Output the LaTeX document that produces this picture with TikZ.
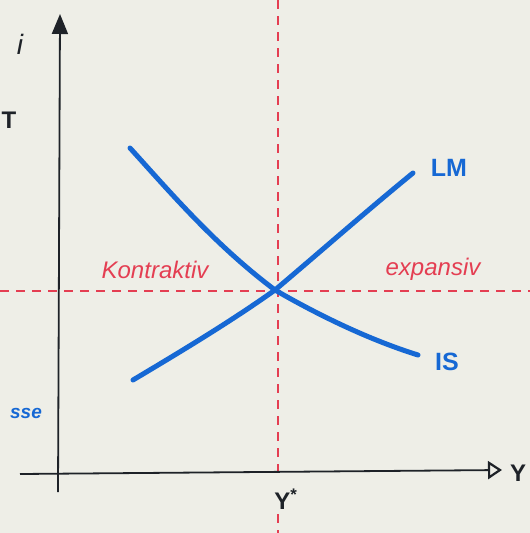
\documentclass[tikz,border=0pt]{standalone}
\usepackage{fontspec}
\setmainfont{Liberation Sans}
\usetikzlibrary{arrows.meta}
\definecolor{paper}{RGB}{238,238,231}
\definecolor{penblue}{RGB}{22,104,212}
\definecolor{penred}{RGB}{228,62,82}
\definecolor{ink}{RGB}{30,34,40}
\tikzset{
  axis/.style={ink, line width=1.8pt},
  guide/.style={penred, line width=1.1pt, dash pattern=on 9pt off 7pt},
  curve/.style={penblue, line width=5pt, line cap=round},
  redlabel/.style={text=penred, font=\itshape\fontsize{24}{24}\selectfont},
  bluelabel/.style={text=penblue, font=\bfseries\fontsize{25}{25}\selectfont},
  blacklabel/.style={text=ink, font=\bfseries\fontsize{24}{24}\selectfont},
}
\begin{document}
\begin{tikzpicture}[x=1pt,y=-1pt]
\fill[paper] (0,0) rectangle (530,533);
\useasboundingbox (0,0) rectangle (530,533);
\clip (0,0) rectangle (530,533);

% coordinates
\coordinate (yb) at (58,492);
\coordinate (yt) at (60,14);
\coordinate (xl) at (20,474);
\coordinate (xr) at (502,470);
\coordinate (vt) at (278,0);
\coordinate (vm) at (278,478);
\coordinate (vb2) at (278,514);
\coordinate (vb3) at (278,533);
\coordinate (hl) at (0,291);
\coordinate (hr) at (530,291);
\coordinate (X) at (275,290);

% guides
\draw[guide] (vt) -- (vm);
\draw[guide] (vb2) -- (vb3);
\draw[guide] (hl) -- (hr);

% axes
\draw[axis, -{Triangle[length=20pt,width=16pt]}] (yb) -- (yt);
\draw[axis, -{Triangle[open,length=14pt,width=18pt,line width=2.2pt]}] (xl) -- (xr);

% curves
\draw[curve] (130,148) .. controls (170,192) and (215,245) .. (X)
             .. controls (320,316) and (370,340) .. (418,355);
\draw[curve] (133,380) .. controls (180,352) and (230,322) .. (X)
             .. controls (320,252) and (370,208) .. (413,173);

% labels
\node[blacklabel, font=\itshape\fontsize{28}{28}\selectfont] (ilab) at (20,44) {i};
\node[blacklabel] (ylab) at (518,473) {Y};
\node[blacklabel] (ystar) at (286,499) {Y\textsuperscript{*}};
\node[bluelabel] (lm) at (449,168) {LM};
\node[bluelabel] (is) at (447,362) {IS};
\node[redlabel] (kon) at (155,270) {Kontraktiv};
\node[redlabel] (exp) at (433,269) {expansiv};

% fragments at the left edge
\node[blacklabel] (frT) at (9,120) {T};
\node[text=penblue, font=\itshape\bfseries\fontsize{19}{19}\selectfont] (frB) at (26,413) {sse};
\end{tikzpicture}
\end{document}
